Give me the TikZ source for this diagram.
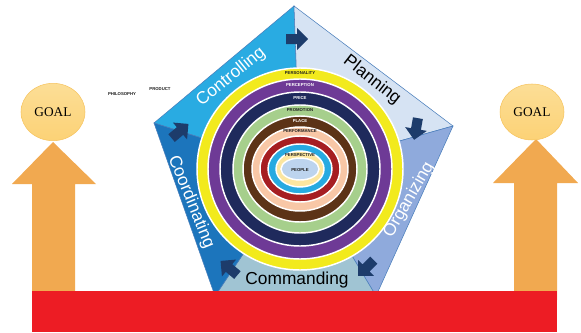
\documentclass[tikz,border=0pt]{standalone}
\usepackage{fontspec}
\setmainfont{Liberation Serif}
\setsansfont{Liberation Sans}
\usepackage{tikz}
\usetikzlibrary{shapes.geometric}

\definecolor{ctrlblue}{RGB}{41,171,226}
\definecolor{planblue}{RGB}{214,227,243}
\definecolor{orgblue}{RGB}{143,170,220}
\definecolor{cmdblue}{RGB}{160,196,211}
\definecolor{coorblue}{RGB}{28,117,188}
\definecolor{edgeblue}{RGB}{74,126,187}
\definecolor{turnblue}{RGB}{29,60,107}
\definecolor{ringyellow}{RGB}{242,234,29}
\definecolor{ringpurple}{RGB}{110,58,150}
\definecolor{ringnavy}{RGB}{31,42,92}
\definecolor{ringgreen}{RGB}{166,207,140}
\definecolor{ringbrown}{RGB}{92,51,23}
\definecolor{ringpeach}{RGB}{248,199,166}
\definecolor{ringred}{RGB}{166,30,34}
\definecolor{ringcyan}{RGB}{39,170,225}
\definecolor{ringcream}{RGB}{252,230,160}
\definecolor{ringpeople}{RGB}{189,212,238}
\definecolor{goaltop}{RGB}{252,222,150}
\definecolor{goalbot}{RGB}{252,210,118}
\definecolor{goaledge}{RGB}{246,196,96}
\definecolor{goalorange}{RGB}{241,169,80}
\definecolor{barred}{RGB}{237,28,36}
\definecolor{inktext}{RGB}{30,30,30}

\begin{document}
\begin{tikzpicture}[x=0.75pt,y=0.75pt,yscale=-1,xscale=1,
    sector/.style={draw=edgeblue, line width=0.4},
    ring/.style={draw=white, line width=1.1},
    ringtext/.style={font=\sffamily\bfseries\fontsize{3.2}{4}\selectfont, inner sep=0.75pt},
    bigtext/.style={font=\sffamily\fontsize{13}{15}\selectfont, inner sep=0.75pt},
    goal/.style={ellipse, draw=goaledge, line width=0.4, top color=goaltop, bottom color=goalbot,
        minimum width=48pt, minimum height=43pt, inner sep=0pt, font=\fontsize{10}{12}\selectfont},
    flowarrow/.pic={\fill[turnblue] (-11,-5) -- (0,-5) -- (0,-11) -- (11,0) -- (0,11) -- (0,5) -- (-11,5) -- cycle;}]
        \useasboundingbox (0,0) rectangle (581,332);
        % pentagon corners and hub
        \coordinate (top) at (294,6);
        \coordinate (lft) at (154,123);
        \coordinate (rgt) at (453,126);
        \coordinate (bl) at (215,296);
        \coordinate (br) at (376,296);
        \coordinate (cen) at (300,169);
        \filldraw [sector, fill=ctrlblue] (cen) -- (lft) -- (top) -- cycle;
        \filldraw [sector, fill=planblue] (cen) -- (top) -- (rgt) -- cycle;
        \filldraw [sector, fill=orgblue] (cen) -- (rgt) -- (br) -- cycle;
        \filldraw [sector, fill=cmdblue] (cen) -- (br) -- (bl) -- cycle;
        \filldraw [sector, fill=coorblue] (cen) -- (bl) -- (lft) -- cycle;
        % turning arrows at the corners
        \pic at (297,39) {flowarrow};
        \pic [rotate=-100] at (416,129) {flowarrow};
        \pic [rotate=-135] at (366,268) {flowarrow};
        \pic [rotate=140] at (229,268) {flowarrow};
        \pic [rotate=40] at (180,131) {flowarrow};
        % rings, outside in
        \foreach \rx/\ry/\col in {103/101/ringyellow, 92/90/ringpurple, 80/77/ringnavy, 67/64/ringgreen, 57/53/ringbrown, 48/42/ringpeach, 40/33/ringred, 32/25/ringcyan, 24/18/ringcream, 19/11/ringpeople}
            \filldraw [ring, fill=\col] (cen) ellipse [x radius=\rx, y radius=\ry];
        \node [ringtext, text=inktext] (personality) at (300,73.5) {PERSONALITY};
        \node [ringtext, text=white] (perception) at (300,85) {PERCEPTION};
        \node [ringtext, text=white] (price) at (300,98) {PRICE};
        \node [ringtext, text=inktext] (promotion) at (300,110) {PROMOTION};
        \node [ringtext, text=white] (place) at (300,121) {PLACE};
        \node [ringtext, text=inktext] (performance) at (300,131) {PERFORMANCE};
        \node [ringtext, text=inktext] (perspective) at (300,155) {PERSPECTIVE};
        \node [ringtext, text=inktext] (people) at (300,170) {PEOPLE};
        % side labels
        \node [bigtext, text=white, rotate=39] (controlling) at (231,77) {Controlling};
        \node [bigtext, text=black, rotate=-38] (planning) at (372,80) {Planning};
        \node [bigtext, text=white, rotate=60] (organizing) at (409,200) {Organizing};
        \node [bigtext, text=black] (commanding) at (297,280) {Commanding};
        \node [bigtext, text=white, rotate=-68] (coordinating) at (191,202) {Coordinating};
        \node [ringtext, text=inktext] (philosophy) at (122,94) {PHILOSOPHY};
        \node [ringtext, text=inktext] (product) at (160,89) {PRODUCT};
        % goals and the arrows up to them
        \fill [goalorange] (32,300) -- (32,184) -- (12,184) -- (53,142) -- (96,184) -- (75,184) -- (75,300) -- cycle;
        \fill [goalorange] (514,300) -- (514,183) -- (493,183) -- (536,139) -- (578,183) -- (557,183) -- (557,300) -- cycle;
        \node [goal] (goalL) at (53,112) {GOAL};
        \node [goal, minimum height=42pt] (goalR) at (532,112) {GOAL};
        \fill [barred] (32,291) rectangle (557,332);
\end{tikzpicture}
\end{document}
